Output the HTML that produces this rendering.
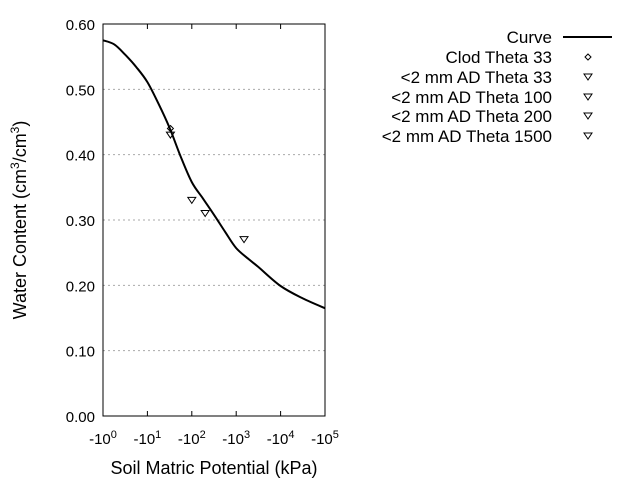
<!DOCTYPE html>
<html><head><meta charset="utf-8"><style>
body{margin:0;background:#fff}
svg text{font-family:"Liberation Sans",sans-serif;fill:#000}
</style></head><body>
<svg id="chart" width="640" height="480" viewBox="0 0 640 480">
<g id="grid"></g>
<g id="yticks"></g>
<g id="xticks"></g>
<rect x="103" y="24" width="222" height="392" fill="none" stroke="#000" stroke-width="1"/>
<path id="curve" fill="none" stroke="#000" stroke-width="2" stroke-linejoin="round"/>
<g id="points"></g>
<text x="0" y="0" font-size="18" text-anchor="middle" transform="translate(26,220) rotate(-90)">Water Content (cm<tspan font-size="12" dy="-7">3</tspan><tspan dy="7">/cm</tspan><tspan font-size="12" dy="-7">3</tspan><tspan dy="7">)</tspan></text>
<text x="214" y="474" font-size="18" text-anchor="middle">Soil Matric Potential (kPa)</text>
<g id="legend"></g>
</svg>
<script>
const yTicks=[0,0.1,0.2,0.3,0.4,0.5,0.6];
const xDecades=[0,1,2,3,4,5];
const curveKpa=[1,1.78,3.16,5.62,10,17.8,31.6,56.2,100,178,316,562,1000,2000,3162,10000,31623,100000];
const curveTheta=[0.575,0.569,0.553,0.534,0.511,0.478,0.441,0.397,0.358,0.333,0.308,0.282,0.257,0.239,0.228,0.199,0.180,0.165];
const ptLabels=["Clod Theta 33","<2 mm AD Theta 33","<2 mm AD Theta 100","<2 mm AD Theta 200","<2 mm AD Theta 1500"];
const ptKpa=[33,33,100,200,1500];
const ptTheta=[0.44,0.43,0.33,0.31,0.27];
const ptShape=["diamond","tri","tri","tri","tri"];
const X0=103,X1=325,Y0=416,Y1=24;
const xs=v=>X0+Math.log10(v)/5*(X1-X0);
const ys=v=>Y0-v/0.6*(Y0-Y1);
const NS="http://www.w3.org/2000/svg";
function mk(t,a,p){const e=document.createElementNS(NS,t);for(const k in a)e.setAttribute(k,a[k]);p.appendChild(e);return e;}
const grid=document.getElementById('grid'),yt=document.getElementById('yticks'),xt=document.getElementById('xticks');
yTicks.forEach(v=>{const y=ys(v);
 if(v>0&&v<0.6){const g=mk('line',{x1:X0,x2:X1,y1:y,y2:y,stroke:'#aaa','stroke-dasharray':'2,3'},grid);
 
 }
 const t=mk('text',{x:X0-8,y:y+6,'font-size':15,'text-anchor':'end'},yt);t.textContent=v.toFixed(2);
 
 
});
xDecades.forEach(d=>{const x=xs(Math.pow(10,d));
 if(d>0&&d<5){mk('line',{x1:x,x2:x,y1:Y0,y2:Y0-5,stroke:'#000'},xt);mk('line',{x1:x,x2:x,y1:Y1,y2:Y1+5,stroke:'#000'},xt);}
 const t=mk('text',{x:x,y:444,'font-size':15,'text-anchor':'middle'},xt);
 t.innerHTML='-10<tspan font-size="11" dy="-6">'+d+'</tspan>';
 
 
});
// Catmull-Rom smooth path through curve points
const P=curveKpa.map((k,i)=>[xs(k),ys(curveTheta[i])]);
let d='M'+P[0][0].toFixed(1)+','+P[0][1].toFixed(1);
for(let i=0;i<P.length-1;i++){
 const p0=P[Math.max(0,i-1)],p1=P[i],p2=P[i+1],p3=P[Math.min(P.length-1,i+2)];
 const c1=[p1[0]+(p2[0]-p0[0])/6,p1[1]+(p2[1]-p0[1])/6],c2=[p2[0]-(p3[0]-p1[0])/6,p2[1]-(p3[1]-p1[1])/6];
 d+='C'+c1[0].toFixed(1)+','+c1[1].toFixed(1)+' '+c2[0].toFixed(1)+','+c2[1].toFixed(1)+' '+p2[0].toFixed(1)+','+p2[1].toFixed(1);
}
document.getElementById('curve').setAttribute('d',d);
function sym(shape,x,y,p){
 if(shape==='diamond')return mk('path',{d:`M${x},${y-3}L${x+3},${y}L${x},${y+3}L${x-3},${y}Z`,fill:'none',stroke:'#000'},p);
 return mk('path',{d:`M${x-4},${y-3}L${x+4},${y-3}L${x},${y+3}Z`,fill:'none',stroke:'#000'},p);
}
const pts=document.getElementById('points');
ptKpa.forEach((k,i)=>{const s=sym(ptShape[i],xs(k),ys(ptTheta[i]),pts);
 
 });
const lg=document.getElementById('legend');
const rowsY=[37,57,77,97,116,136];
const lt=mk('text',{x:552,y:rowsY[0]+6,'font-size':17,'text-anchor':'end'},lg);lt.textContent='Curve';


mk('line',{x1:563,x2:612,y1:rowsY[0],y2:rowsY[0],stroke:'#000','stroke-width':2},lg);
ptLabels.forEach((l,i)=>{const y=rowsY[i+1];
 const t=mk('text',{x:552,y:y+6,'font-size':17,'text-anchor':'end'},lg);t.textContent=l;
 
 
 sym(ptShape[i],588,y,lg);});
</script>
</body></html>
